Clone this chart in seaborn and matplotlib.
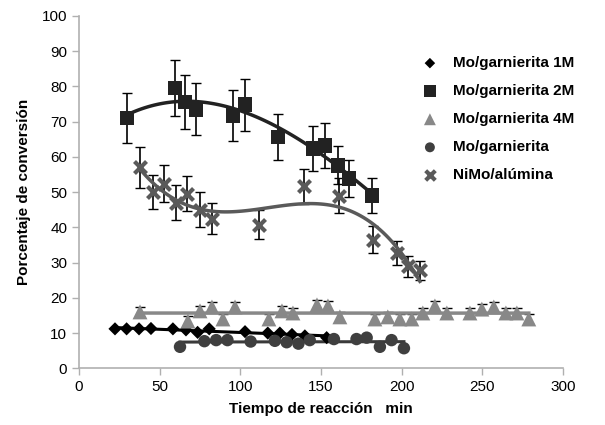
import matplotlib
matplotlib.use('Agg')

import numpy as np
import pandas as pd
import seaborn as sns
from matplotlib import pyplot as plt

# Mo/garnierita 1M
t_1m = [22.3, 29.5, 37.2, 44.6, 58.2, 66.3, 73.5, 80.7, 102.9, 117.0, 124.5, 132.0, 140.0, 153.5]
c_1m = [11.2, 11.2, 11.2, 11.3, 11.2, 10.9, 10.2, 11.2, 10.4, 10.0, 10.0, 9.6, 9.2, 8.7]

# Mo/garnierita 2M
t_2m = [29.7, 59.5, 65.7, 72.5, 95.4, 102.9, 123.3, 145.0, 152.5, 160.5, 167.3, 181.5]
c_2m = [71.0, 79.6, 75.6, 73.5, 71.8, 74.8, 65.7, 62.4, 63.2, 57.6, 53.9, 49.0]
e_2m = [7.0, 8.0, 7.6, 7.4, 7.2, 7.4, 6.5, 6.4, 6.3, 5.4, 5.3, 5.0]

# Mo/garnierita 4M
t_4m = [37.8, 67.5, 75.0, 82.4, 89.2, 96.7, 117.7, 125.8, 132.6, 147.5, 154.3, 161.7, 183.4,
        191.4, 198.9, 206.3, 213.1, 220.6, 228.0, 242.3, 249.7, 257.1, 264.6, 271.4, 278.8]
c_4m = [16.0, 13.4, 16.3, 17.4, 14.0, 17.4, 14.0, 16.3, 15.7, 18.0, 17.7, 14.6, 14.0,
        14.6, 14.0, 14.0, 15.7, 17.7, 15.7, 15.7, 16.8, 17.4, 15.7, 15.7, 14.0]
e_4m = [1.5] * len(t_4m)

# Mo/garnierita
t_mo = [62.6, 77.7, 85.0, 92.0, 106.4, 121.4, 128.7, 136.0, 143.0, 158.0, 172.0, 178.3, 186.5, 193.7, 201.4]
c_mo = [6.1, 7.7, 8.0, 8.0, 7.6, 7.8, 7.4, 7.0, 8.0, 8.3, 8.3, 8.7, 6.1, 8.0, 5.7]

# NiMo/alumina
t_ni = [37.8, 45.8, 52.7, 60.0, 67.0, 75.0, 82.4, 111.5, 139.4, 161.0, 182.0, 197.0, 203.8, 211.3]
c_ni = [57.0, 50.0, 52.4, 47.0, 49.6, 45.0, 42.5, 40.8, 51.7, 49.0, 36.5, 32.7, 29.0, 27.8]
e_ni = [5.8, 4.9, 5.3, 5.0, 5.0, 5.0, 4.5, 4.0, 5.0, 4.9, 3.8, 3.3, 3.0, 2.7]

plt.rcParams['font.family'] = ['Liberation Sans', 'DejaVu Sans']

fig = plt.figure(figsize=(6.05, 4.25), dpi=100)
ax = fig.add_axes([0.1306, 0.1334, 0.8, 0.8290])

# error bars
ax.errorbar(t_2m, c_2m, yerr=e_2m, fmt='none', ecolor='black', elinewidth=1.2, capsize=3.5, zorder=2)
ax.errorbar(t_ni, c_ni, yerr=e_ni, fmt='none', ecolor='black', elinewidth=1.2, capsize=3.5, zorder=2)
ax.errorbar(t_4m, c_4m, yerr=e_4m, fmt='none', ecolor='black', elinewidth=1.2, capsize=3.5, zorder=2)

# trend lines
sns.regplot(x=t_1m, y=c_1m, order=1, ci=None, scatter=False, ax=ax,
            line_kws={'color': 'black', 'lw': 2.2, 'zorder': 3})
sns.regplot(x=t_2m, y=c_2m, order=3, ci=None, scatter=False, ax=ax,
            line_kws={'color': '#222222', 'lw': 2.5, 'zorder': 3})
sns.regplot(x=t_4m, y=c_4m, order=1, ci=None, scatter=False, ax=ax,
            line_kws={'color': '#888888', 'lw': 2.5, 'zorder': 3})
sns.regplot(x=t_mo, y=c_mo, logx=True, ci=None, scatter=False, ax=ax,
            line_kws={'color': '#3a3a3a', 'lw': 2.2, 'zorder': 3})
sns.regplot(x=t_ni, y=c_ni, order=3, ci=None, scatter=False, ax=ax,
            line_kws={'color': '#5a5a5a', 'lw': 2.5, 'zorder': 3})

# markers
sns.scatterplot(x=t_1m, y=c_1m, marker='D', s=45, color='black', edgecolor='none',
                label='Mo/garnierita 1M', ax=ax, zorder=4)
sns.scatterplot(x=t_2m, y=c_2m, marker='s', s=110, color='#222222', edgecolor='none',
                label='Mo/garnierita 2M', ax=ax, zorder=4)
sns.scatterplot(x=t_4m, y=c_4m, marker='^', s=115, color='#888888', edgecolor='none',
                label='Mo/garnierita 4M', ax=ax, zorder=4)
sns.scatterplot(x=t_mo, y=c_mo, marker='o', s=80, color='#3f3f3f', edgecolor='none',
                label='Mo/garnierita', ax=ax, zorder=4)
sns.scatterplot(x=t_ni, y=c_ni, marker='x', s=75, color='#5a5a5a', linewidth=3,
                label='NiMo/alúmina', ax=ax, zorder=4)

ax.set_xlim(0, 300)
ax.set_ylim(0, 100)
ax.set_xticks(np.arange(0, 301, 50))
ax.set_yticks(np.arange(0, 101, 10))
ax.set_xlabel('Tiempo de reacción   min', fontsize=11, fontweight='bold', labelpad=6)
ax.set_ylabel('Porcentaje de conversión', fontsize=11, fontweight='bold', labelpad=8)
ax.tick_params(labelsize=11, colors='#b0b0b0', labelcolor='black', length=5, width=1)
for s in ['top', 'right']:
    ax.spines[s].set_visible(False)
for s in ['left', 'bottom']:
    ax.spines[s].set_color('#b0b0b0')
    ax.spines[s].set_linewidth(1.2)

leg = ax.legend(loc='upper left', bbox_to_anchor=(0.665, 0.925), frameon=False,
                prop={'weight': 'bold', 'size': 11}, labelspacing=0.92,
                handletextpad=0.5, markerscale=0.8)

fig.savefig('out.png', dpi=100)
